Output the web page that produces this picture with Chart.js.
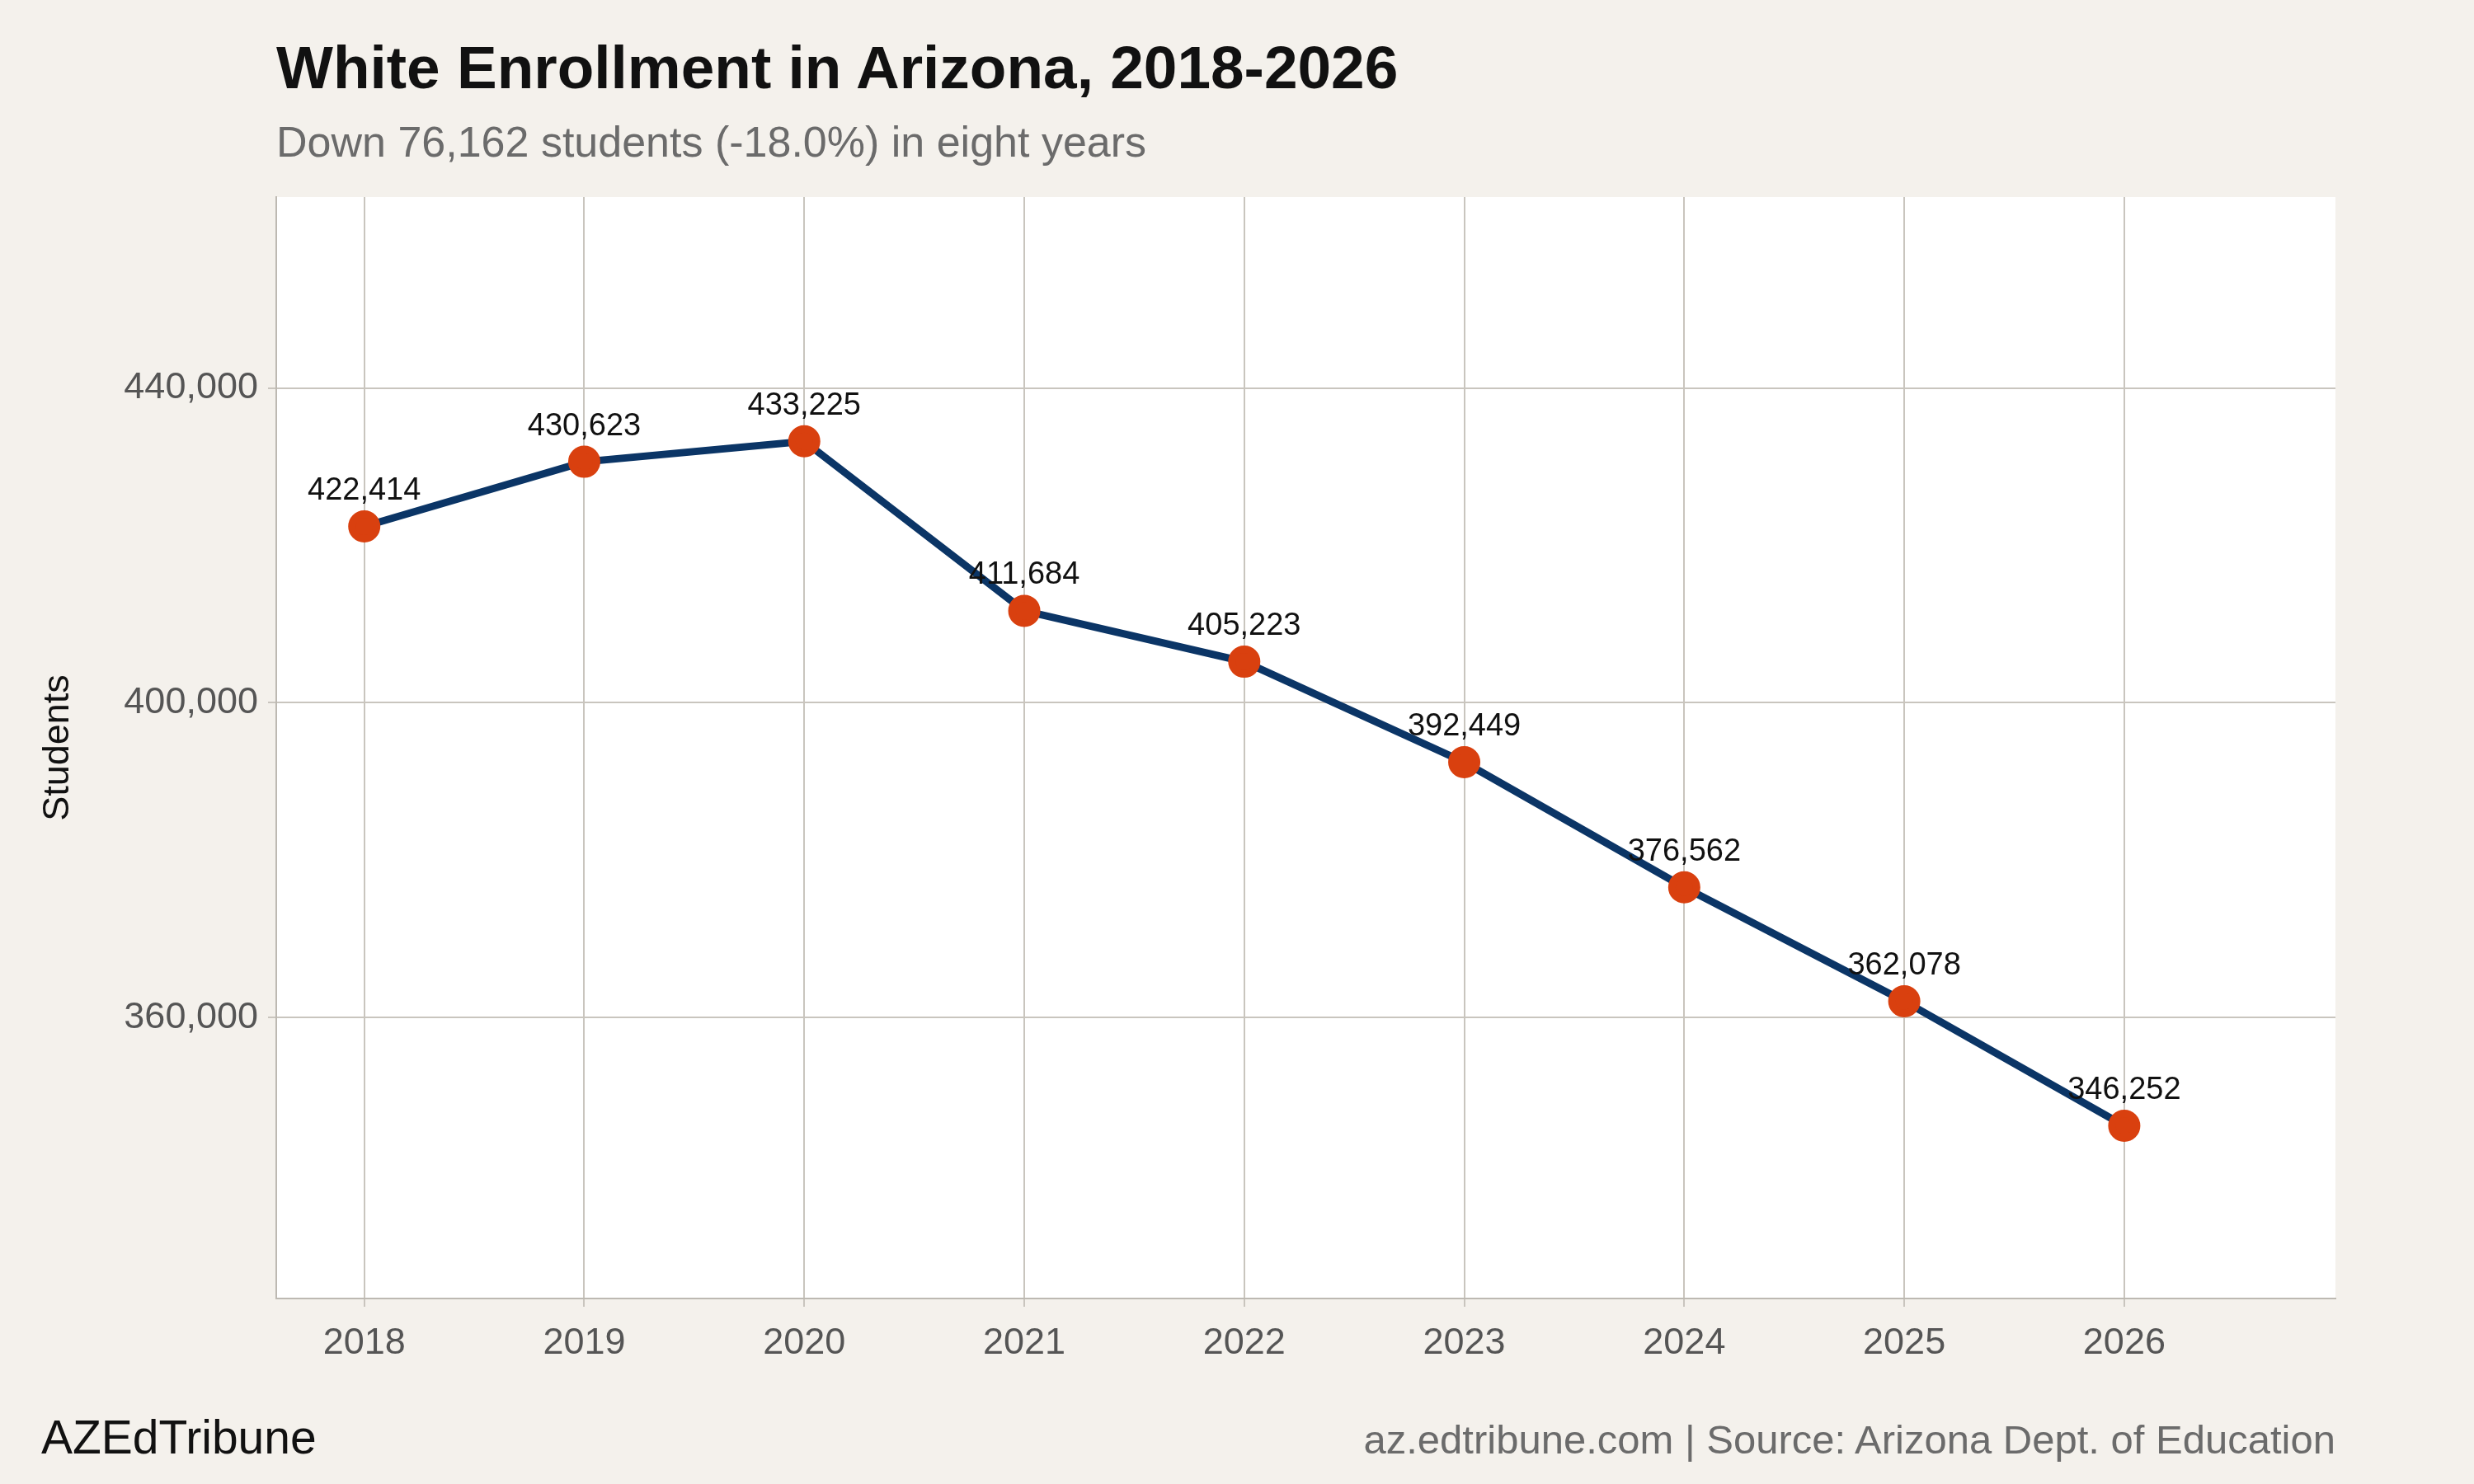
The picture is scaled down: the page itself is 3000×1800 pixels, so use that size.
<!DOCTYPE html>
<html><head><meta charset="utf-8">
<script src="https://cdn.jsdelivr.net/npm/chart.js@4"></script>
<style>
body{margin:0;background:#f4f1ec;width:3000px;height:1800px;overflow:hidden;font-family:"Liberation Sans",Arial,sans-serif;}
#wrap{position:absolute;left:0;top:0;width:3000px;height:1800px;}
.t{position:absolute;white-space:nowrap;}
</style></head><body>
<div id="wrap"><canvas id="c" width="3000" height="1800"></canvas></div>
<div class="t" style="left:335px;top:40px;font-size:73px;font-weight:bold;color:#111;">White Enrollment in Arizona, 2018-2026</div>
<div class="t" style="left:335px;top:142px;font-size:52px;color:#6b6b6b;">Down 76,162 students (-18.0%) in eight years</div>
<div class="t" style="left:50px;top:1710px;font-size:57px;color:#111;">AZEdTribune</div>
<div class="t" style="right:168px;top:1718px;font-size:49px;color:#6b6b6b;">az.edtribune.com | Source: Arizona Dept. of Education</div>
<script>
const years=[2018,2019,2020,2021,2022,2023,2024,2025,2026];
const students=[422414,430623,433225,411684,405223,392449,376562,362078,346252];
const yTicks=[360000,400000,440000];
const grid='#c9c5be';
const F='"Liberation Sans",Arial';
const bgPlugin={id:'bg',beforeDraw(ch){const a=ch.chartArea,c=ch.ctx;c.save();c.fillStyle='#fff';c.fillRect(a.left,a.top,a.right-a.left,a.bottom-a.top);c.restore();}};
const lblPlugin={id:'lbl',afterDatasetsDraw(ch){const c=ch.ctx,m=ch.getDatasetMeta(0);c.save();c.font='38px '+F;c.fillStyle='#111';c.textAlign='center';c.textBaseline='bottom';
m.data.forEach((p,i)=>c.fillText(students[i].toLocaleString('en-US'),p.x,p.y-24));c.restore();}};
new Chart(document.getElementById('c'),{type:'line',
data:{datasets:[{data:years.map((y,i)=>({x:y,y:students[i]})),borderColor:'#0b3566',borderWidth:9,pointBackgroundColor:'#d9400f',pointBorderColor:'#d9400f',pointRadius:15,tension:0}]},
options:{responsive:false,animation:false,devicePixelRatio:1,
layout:{padding:{left:40,top:239,right:168,bottom:0}},
plugins:{legend:{display:false},tooltip:{enabled:false}},
scales:{
x:{type:'linear',min:2017.6,max:2026.96,afterBuildTicks(s){s.ticks=years.map(v=>({value:v}));},
afterFit(s){s.height=225;},
grid:{color:grid,lineWidth:2,tickLength:10},border:{color:'#bdb9b2',width:2},
ticks:{color:'#555',font:{size:45,family:F},padding:18,callback:v=>String(v)}},
y:{min:324310,max:464261,afterBuildTicks(s){s.ticks=yTicks.map(v=>({value:v}));},
afterFit(s){s.width=295;},
grid:{color:grid,lineWidth:2,tickLength:10},border:{color:'#bdb9b2',width:2},
title:{display:true,text:'Students',color:'#111',font:{size:45,family:F},padding:{bottom:20}},
ticks:{color:'#555',font:{size:45,family:F},padding:12,callback:v=>v.toLocaleString('en-US')}}
}},plugins:[bgPlugin,lblPlugin]});
</script></body></html>
